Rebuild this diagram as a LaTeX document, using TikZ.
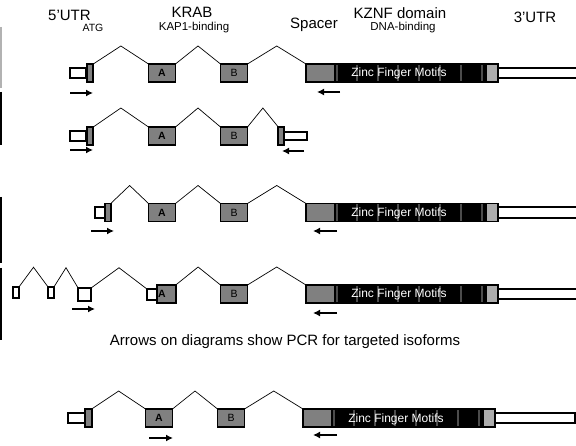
\documentclass[tikz,border=0pt]{standalone}
\usepackage{fontspec}
\setmainfont{Liberation Sans}
\usetikzlibrary{positioning, arrows.meta, calc}

% one intron: from the top right corner of #1 up to a peak and down to #2
\newcommand{\intron}[3]{%
  \draw[intron] (#1.north east) -- ($(#1.north east)!.5!(#2.north west)+(0,-#3)$) -- (#2.north west);}

% spacer + zinc finger block + 3'UTR, row #1 starting at x=#2, centre y=#3
\newcommand{\kznf}[3]{%
  \node[exon, minimum width=29pt, anchor=west] (sp#1) at (#2,#3) {};
  \node[zfbox, right=0pt of sp#1] (zf#1) {};
  \foreach \s in {2,22,43,63,84,105,126,147}
    \draw[stripe] ([xshift=\s pt,yshift=-0.8pt]zf#1.north west) -- ([xshift=\s pt,yshift=0.8pt]zf#1.south west);
  \node[exon, fill=gray!65, minimum width=12pt, right=0pt of zf#1] (lg#1) {};
  \node[utrbox, minimum width=80pt, right=0pt of lg#1] (tu#1) {};
  \node[zftext] (zt#1) at ([xshift=64pt,yshift=-4pt]zf#1.west) {Zinc Finger Motifs};}

\begin{document}
\begin{tikzpicture}[
  x=1pt, y=-1pt,
  exon/.style={draw, line width=1.6pt, fill=gray, minimum width=27pt, minimum height=18pt,
               inner sep=0pt, outer sep=0pt, font=\fontsize{10.5}{10.5}\selectfont},
  atg/.style={exon, minimum width=6.5pt},
  utrbox/.style={draw, line width=1.6pt, fill=white, minimum height=10.5pt, inner sep=0pt, outer sep=0pt},
  zfbox/.style={exon, fill=black, minimum width=151pt},
  stripe/.style={line width=2.2pt, draw=black!70},
  zftext/.style={text=white, font=\fontsize{12}{12}\selectfont, anchor=base},
  intron/.style={line width=0.7pt},
  pcr/.style={line width=2pt, -{Latex[length=7pt,width=7pt]}},
  heading/.style={font=\fontsize{15}{15}\selectfont, anchor=base},
  subhead/.style={font=\fontsize{11.5}{11.5}\selectfont, anchor=base},
  bar/.style={line width=1.5pt}
]
\useasboundingbox (0,0) rectangle (576,446);

% Headings
\node[heading] (h5utr) at (69.5,20.5) {5’UTR};
\node[subhead, font=\fontsize{10.5}{10.5}\selectfont] (hatg) at (93,32) {ATG};
\node[heading] (hkrab) at (192,17.5) {KRAB};
\node[subhead] (hkap) at (194,30.5) {KAP1-binding};
\node[heading] (hsp) at (314,28.5) {Spacer};
\node[heading] (hkznf) at (400,18.5) {KZNF domain};
\node[subhead] (hdna) at (403,31) {DNA-binding};
\node[heading] (h3utr) at (535,23) {3’UTR};

% Bars on the left edge
\draw[bar, draw=gray!60] (1,27) -- (1,88);
\draw[bar] (1,92) -- (1,145);
\draw[bar] (1,197) -- (1,263);
\draw[bar] (1,268) -- (1,340);

% Row 1
\node[utrbox, minimum width=16pt] (u1) at (78,73) {};
\node[atg] (g1) at (90,73) {};
\node[exon] (a1) at (162,73) {\bfseries A};
\node[exon] (b1) at (234,73) {B};
\kznf{1}{306}{73}
\intron{g1}{a1}{18}
\intron{a1}{b1}{18}
\intron{b1}{sp1}{18}
\draw[pcr] (70,93) coordinate (f1) -- ++(23,0);
\draw[pcr] (340,92) coordinate (r1) -- ++(-23,0);

% Row 2
\node[utrbox, minimum width=16pt] (u2) at (78,136) {};
\node[atg] (g2) at (90,136) {};
\node[exon] (a2) at (162,136) {\bfseries A};
\node[exon] (b2) at (234,136) {B};
\node[atg, minimum width=5.5pt] (e2) at (281,136) {};
\node[utrbox, minimum width=23pt, minimum height=8.5pt, right=0pt of e2] (t2) {};
\intron{g2}{a2}{19}
\intron{a2}{b2}{19}
\intron{b2}{e2}{19}
\draw[pcr] (70,150) coordinate (f2) -- ++(23,0);
\draw[pcr] (304,151) coordinate (r2) -- ++(-22,0);

% Row 3
\node[utrbox, minimum width=10pt] (u3) at (100,212.5) {};
\node[atg, minimum width=5.5pt] (g3) at (108,212.5) {};
\node[exon] (a3) at (162,212.5) {\bfseries A};
\node[exon] (b3) at (234,212.5) {B};
\kznf{3}{306}{212.5}
\intron{g3}{a3}{18}
\intron{a3}{b3}{18}
\intron{b3}{sp3}{18}
\draw[pcr] (91,231) coordinate (f3) -- ++(23,0);
\draw[pcr] (337,231) coordinate (r3) -- ++(-24,0);

% Row 4
\node[utrbox, minimum width=5.5pt] (s1) at (16,292.5) {};
\node[utrbox, minimum width=5.5pt] (s2) at (51,292.5) {};
\node[utrbox, minimum width=12.5pt, minimum height=12.5pt] (s3) at (84.5,294.5) {};
\node[utrbox, minimum width=9.5pt] (s4) at (152,294.5) {};
\node[exon, minimum width=18.5pt] (a4) at (166.5,294) {};
\node[font=\fontsize{10.5}{10.5}\selectfont\bfseries] (la4) at (162,294) {A};
\node[exon] (b4) at (234,294) {B};
\kznf{4}{306}{294}
\intron{s1}{s2}{20}
\intron{s2}{s3}{20}
\intron{s3}{s4}{21}
\intron{a4}{b4}{18}
\intron{b4}{sp4}{18}
\draw[pcr] (72,309) coordinate (f4) -- ++(23,0);
\draw[pcr] (337,313) coordinate (r4) -- ++(-24,0);

% Caption
\node[font=\fontsize{15}{15}\selectfont, anchor=base] (cap) at (285,346) {Arrows on diagrams show PCR for targeted isoforms};

% Row 5
\node[utrbox, minimum width=17pt, minimum height=10pt] (u5) at (76.5,418) {};
\node[atg] (g5) at (88.5,418) {};
\node[exon] (a5) at (159,418) {\bfseries A};
\node[exon] (b5) at (231,418) {B};
\kznf{5}{303}{418}
\intron{g5}{a5}{18}
\intron{a5}{b5}{18}
\intron{b5}{sp5}{18}
\draw[pcr] (149,438) coordinate (f5) -- ++(24,0);
\draw[pcr] (337,435) coordinate (r5) -- ++(-24,0);

\end{tikzpicture}
\end{document}
